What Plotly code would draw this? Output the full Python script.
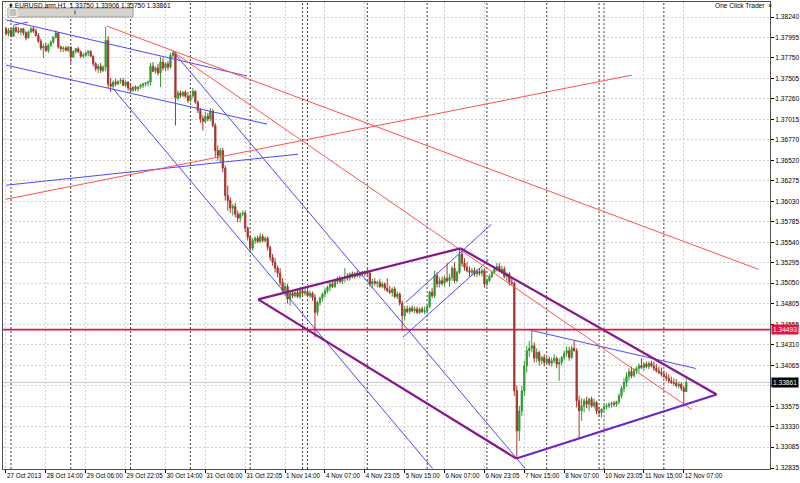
import plotly.graph_objects as go

# ---------------- data (EURUSD H1) ----------------
first_open = 1.3810
closes = [
    1.3804, 1.3808, 1.3801, 1.3811, 1.3807, 1.3806, 1.3810, 1.3805, 1.3799, 1.3806,
    1.3810, 1.3807, 1.3802, 1.3795, 1.3787, 1.3789, 1.3784, 1.3790, 1.3794, 1.3800,
    1.3805, 1.3788, 1.3786, 1.3787, 1.3784, 1.3788, 1.3776, 1.3783, 1.3786, 1.3782,
    1.3777, 1.3778, 1.3781, 1.3783, 1.3777, 1.3768, 1.3762, 1.3765, 1.3760, 1.3764,
    1.3796, 1.3744, 1.3741, 1.3746, 1.3744, 1.3747, 1.3748, 1.3742, 1.3746, 1.3739,
    1.3736, 1.3740, 1.3738, 1.3740, 1.3742, 1.3744, 1.3745, 1.3746, 1.3765, 1.3759,
    1.3763, 1.3757, 1.3770, 1.3763, 1.3768, 1.3764, 1.3778, 1.3781, 1.3727, 1.3733,
    1.3730, 1.3734, 1.3729, 1.3724, 1.3730, 1.3735, 1.3722, 1.3712, 1.3702, 1.3699,
    1.3705, 1.3702, 1.3711, 1.3694, 1.3664, 1.3658, 1.3664, 1.3643, 1.3610, 1.3604,
    1.3595, 1.3597, 1.3588, 1.3583, 1.3588, 1.3589, 1.3571, 1.3560, 1.3547, 1.3556,
    1.3559, 1.3555, 1.3561, 1.3556, 1.3559, 1.3548, 1.3536, 1.3530, 1.3523, 1.3517,
    1.3506, 1.3496, 1.3501, 1.3486, 1.3493, 1.3490, 1.3494, 1.3489, 1.3496, 1.3493,
    1.3495, 1.3490, 1.3493, 1.3488, 1.3470, 1.3482, 1.3487, 1.3492, 1.3496, 1.3500,
    1.3504, 1.3501, 1.3507, 1.3510, 1.3507, 1.3511, 1.3513, 1.3511, 1.3516, 1.3513,
    1.3517, 1.3514, 1.3518, 1.3516, 1.3519, 1.3517, 1.3504, 1.3507, 1.3505, 1.3506,
    1.3501, 1.3504, 1.3499, 1.3496, 1.3494, 1.3498, 1.3489, 1.3492, 1.3481, 1.3466,
    1.3474, 1.3471, 1.3475, 1.3472, 1.3474, 1.3470, 1.3474, 1.3471, 1.3472, 1.3477,
    1.3494, 1.3490, 1.3514, 1.3504, 1.3508, 1.3505, 1.3511, 1.3508, 1.3512, 1.3523,
    1.3508, 1.3518, 1.3540, 1.3529, 1.3524, 1.3520, 1.3518, 1.3520, 1.3516, 1.3519,
    1.3517, 1.3520, 1.3504, 1.3508, 1.3513, 1.3518, 1.3522, 1.3525, 1.3520, 1.3522,
    1.3513, 1.3516, 1.3506, 1.3505, 1.3376, 1.3328, 1.3352, 1.3376, 1.3406, 1.3424,
    1.3427, 1.3430, 1.3415, 1.3422, 1.3412, 1.3416, 1.3410, 1.3414, 1.3409, 1.3412,
    1.3415, 1.3408, 1.3410, 1.3416, 1.3421, 1.3424, 1.3416, 1.3427, 1.3424, 1.3364,
    1.3352, 1.3358, 1.3364, 1.3360, 1.3366, 1.3358, 1.3362, 1.3352, 1.3350, 1.3354,
    1.3357, 1.3358, 1.3360, 1.3361, 1.3360, 1.3363, 1.3370, 1.3379, 1.3386, 1.3393,
    1.3399, 1.3394, 1.3400, 1.3403, 1.3406, 1.3404, 1.3408, 1.3405, 1.3409, 1.3406,
    1.3403, 1.3400, 1.3398, 1.3396, 1.3393, 1.3391, 1.3388, 1.3386, 1.3385, 1.3382,
    1.3384, 1.3379, 1.33750, 1.33861,
]
highs = [
    1.3812, 1.3811, 1.3811, 1.3814, 1.3813, 1.3812, 1.3811, 1.3811, 1.3807, 1.3808,
    1.3812, 1.3812, 1.3810, 1.3805, 1.3798, 1.3792, 1.3793, 1.3792, 1.3796, 1.3801,
    1.3808, 1.3806, 1.3790, 1.3789, 1.3789, 1.3789, 1.3789, 1.3784, 1.3787, 1.3788,
    1.3784, 1.3781, 1.3782, 1.3784, 1.3784, 1.3778, 1.3770, 1.3768, 1.3769, 1.3766,
    1.3812, 1.3801, 1.3751, 1.3748, 1.3750, 1.3748, 1.3751, 1.3751, 1.3748, 1.3747,
    1.3744, 1.3741, 1.3742, 1.3741, 1.3744, 1.3745, 1.3746, 1.3748, 1.3769, 1.3770,
    1.3765, 1.3768, 1.3776, 1.3775, 1.3770, 1.3771, 1.3781, 1.3784, 1.3782, 1.3736,
    1.3736, 1.3735, 1.3736, 1.3734, 1.3732, 1.3739, 1.3736, 1.3724, 1.3715, 1.3706,
    1.3710, 1.3709, 1.3715, 1.3714, 1.3697, 1.3670, 1.3667, 1.3667, 1.3646, 1.3622,
    1.3608, 1.3600, 1.3601, 1.3592, 1.3590, 1.3592, 1.3592, 1.3573, 1.3562, 1.3559,
    1.3561, 1.3562, 1.3565, 1.3564, 1.3561, 1.3561, 1.3550, 1.3540, 1.3535, 1.3526,
    1.3523, 1.3511, 1.3505, 1.3504, 1.3496, 1.3496, 1.3495, 1.3498, 1.3500, 1.3499,
    1.3498, 1.3500, 1.3496, 1.3495, 1.3492, 1.3484, 1.3489, 1.3494, 1.3499, 1.3502,
    1.3506, 1.3507, 1.3510, 1.3513, 1.3514, 1.3512, 1.3523, 1.3517, 1.3518, 1.3519,
    1.3518, 1.3520, 1.3519, 1.3520, 1.3520, 1.3522, 1.3519, 1.3510, 1.3511, 1.3508,
    1.3510, 1.3507, 1.3506, 1.3511, 1.3502, 1.3500, 1.3501, 1.3495, 1.3494, 1.3484,
    1.3478, 1.3478, 1.3477, 1.3478, 1.3477, 1.3477, 1.3476, 1.3477, 1.3477, 1.3480,
    1.3496, 1.3499, 1.3520, 1.3518, 1.3512, 1.3513, 1.3514, 1.3529, 1.3516, 1.3526,
    1.3530, 1.3520, 1.3547, 1.3544, 1.3535, 1.3530, 1.3525, 1.3523, 1.3524, 1.3522,
    1.3523, 1.3523, 1.3523, 1.3511, 1.3516, 1.3520, 1.3525, 1.3529, 1.3529, 1.3526,
    1.3525, 1.3518, 1.3518, 1.3511, 1.3507, 1.3382, 1.3358, 1.3382, 1.3412, 1.3430,
    1.3436, 1.3448, 1.3434, 1.3427, 1.3424, 1.3418, 1.3420, 1.3417, 1.3417, 1.3416,
    1.3420, 1.3417, 1.3415, 1.3418, 1.3424, 1.3429, 1.3429, 1.3430, 1.3436, 1.3427,
    1.3370, 1.3367, 1.3367, 1.3369, 1.3368, 1.3369, 1.3367, 1.3364, 1.3357, 1.3355,
    1.3360, 1.3361, 1.3362, 1.3363, 1.3364, 1.3364, 1.3373, 1.3382, 1.3391, 1.3398,
    1.3403, 1.3405, 1.3403, 1.3405, 1.3409, 1.3415, 1.3410, 1.3411, 1.3411, 1.3412,
    1.3411, 1.3408, 1.3405, 1.3404, 1.3400, 1.3398, 1.3396, 1.3393, 1.3391, 1.3390,
    1.3387, 1.3386, 1.3382, 1.33906,
]
lows = [
    1.3802, 1.3801, 1.3800, 1.3800, 1.3805, 1.3804, 1.3802, 1.3802, 1.3796, 1.3798,
    1.3805, 1.3805, 1.3801, 1.3793, 1.3784, 1.3775, 1.3782, 1.3781, 1.3788, 1.3792,
    1.3798, 1.3786, 1.3782, 1.3782, 1.3783, 1.3782, 1.3769, 1.3775, 1.3780, 1.3781,
    1.3775, 1.3775, 1.3776, 1.3777, 1.3776, 1.3765, 1.3759, 1.3757, 1.3757, 1.3758,
    1.3759, 1.3739, 1.3734, 1.3739, 1.3741, 1.3742, 1.3744, 1.3741, 1.3740, 1.3736,
    1.3734, 1.3734, 1.3735, 1.3735, 1.3738, 1.3739, 1.3741, 1.3741, 1.3742, 1.3758,
    1.3756, 1.3754, 1.3740, 1.3760, 1.3759, 1.3760, 1.3762, 1.3775, 1.3694, 1.3724,
    1.3727, 1.3728, 1.3727, 1.3721, 1.3722, 1.3727, 1.3720, 1.3709, 1.3697, 1.3688,
    1.3697, 1.3699, 1.3699, 1.3692, 1.3656, 1.3652, 1.3649, 1.3638, 1.3604, 1.3592,
    1.3589, 1.3586, 1.3584, 1.3578, 1.3578, 1.3585, 1.3566, 1.3556, 1.3542, 1.3544,
    1.3552, 1.3553, 1.3553, 1.3554, 1.3554, 1.3544, 1.3532, 1.3526, 1.3518, 1.3512,
    1.3502, 1.3493, 1.3489, 1.3481, 1.3478, 1.3487, 1.3488, 1.3487, 1.3486, 1.3489,
    1.3490, 1.3488, 1.3487, 1.3484, 1.3440, 1.3466, 1.3478, 1.3483, 1.3488, 1.3493,
    1.3495, 1.3499, 1.3499, 1.3504, 1.3505, 1.3504, 1.3506, 1.3508, 1.3508, 1.3511,
    1.3510, 1.3512, 1.3511, 1.3513, 1.3513, 1.3514, 1.3501, 1.3499, 1.3502, 1.3500,
    1.3499, 1.3499, 1.3496, 1.3494, 1.3492, 1.3489, 1.3487, 1.3486, 1.3478, 1.3448,
    1.3460, 1.3469, 1.3468, 1.3470, 1.3469, 1.3468, 1.3468, 1.3469, 1.3468, 1.3469,
    1.3475, 1.3487, 1.3487, 1.3500, 1.3500, 1.3502, 1.3501, 1.3506, 1.3501, 1.3508,
    1.3505, 1.3506, 1.3516, 1.3525, 1.3520, 1.3518, 1.3513, 1.3514, 1.3513, 1.3512,
    1.3514, 1.3513, 1.3500, 1.3501, 1.3506, 1.3511, 1.3516, 1.3519, 1.3518, 1.3516,
    1.3511, 1.3508, 1.3502, 1.3502, 1.3370, 1.3295, 1.3316, 1.3346, 1.3370, 1.3398,
    1.3417, 1.3422, 1.3410, 1.3410, 1.3406, 1.3408, 1.3405, 1.3408, 1.3406, 1.3405,
    1.3409, 1.3403, 1.3388, 1.3406, 1.3412, 1.3417, 1.3412, 1.3414, 1.3423, 1.3356,
    1.3319, 1.3340, 1.3350, 1.3355, 1.3352, 1.3356, 1.3355, 1.3348, 1.3345, 1.3344,
    1.3351, 1.3354, 1.3355, 1.3356, 1.3357, 1.3357, 1.3360, 1.3367, 1.3374, 1.3381,
    1.3388, 1.3391, 1.3392, 1.3396, 1.3398, 1.3402, 1.3400, 1.3403, 1.3402, 1.3404,
    1.3400, 1.3398, 1.3396, 1.3393, 1.3391, 1.3388, 1.3385, 1.3384, 1.3382, 1.3380,
    1.3379, 1.3376, 1.3358, 1.33750,
]
opens = [first_open] + closes[:-1]
bars = list(range(len(closes)))

time_tick_bars = list(range(0, 273, 16))
time_tick_labels = [
    "27 Oct 2013", "28 Oct 14:00", "29 Oct 06:00", "29 Oct 22:05", "30 Oct 14:00",
    "31 Oct 06:00", "31 Oct 22:05", "1 Nov 14:00", "4 Nov 07:00", "4 Nov 23:05",
    "5 Nov 15:00", "6 Nov 07:00", "6 Nov 23:05", "7 Nov 15:00", "8 Nov 07:00",
    "10 Nov 23:05", "11 Nov 15:00", "12 Nov 07:00",
]
day_separator_bars = [2, 26, 50, 74, 98, 119, 121, 145, 169, 193, 217, 238, 240, 264]

price_ticks = [1.38240, 1.37995, 1.37750, 1.37505, 1.37260, 1.37015, 1.36770,
               1.36520, 1.36275, 1.36030, 1.35785, 1.35540, 1.35295, 1.35050,
               1.34805, 1.34555, 1.34310, 1.34065, 1.33820, 1.33575, 1.33330,
               1.33085, 1.32835]
price_tick_labels = ["1.38240", "1.37995", "1.37750", "1.37505", "1.37260", "1.37015",
                     "1.36770", "1.36520", "1.36275", "1.36030", "1.35785", "1.35540",
                     "1.35295", "1.35050", "1.34805", "1.34555", "1.34310", "1.34065",
                     "", "1.33575", "1.33330", "1.33085", "1.32835"]

symbol_title = "EURUSD.arm,H1  1.33750 1.33906 1.33750 1.33861"
hline_price = 1.34493
bid_price = 1.33861

# trend line anchors: ((bar, price), (bar, price))
blue_lines = [
    ((0, 1.38204), (96.8, 1.37532)),
    ((3.2, 1.38144), (8.8, 1.38180)),
    ((0, 1.37664), (104.8, 1.36956)),
    ((0, 1.36224), (117.2, 1.36596)),
    ((42.8, 1.37388), (171.2, 1.32828)),
    ((67.2, 1.37820), (208.4, 1.32828)),
    ((159.2, 1.34400), (193.6, 1.35324)),
    ((160.4, 1.34820), (194.8, 1.35756)),
    ((210.8, 1.34484), (276.8, 1.34028)),
]
red_lines = [
    ((40.4, 1.38132), (302.0, 1.35216)),
    ((67.2, 1.37820), (275.2, 1.33536)),
    ((0, 1.36056), (251.2, 1.37544)),
]
purple_lines = [
    ((101.2, 1.34856), (182.4, 1.35468)),
    ((182.4, 1.35468), (285.2, 1.33716)),
    ((101.2, 1.34856), (204.8, 1.32948)),
]
violet_lines = [
    ((204.8, 1.32948), (285.2, 1.33716)),
]

# ---------------- styling ----------------
BULL = "#2f9a2f"
BEAR = "#a8342c"
FONT = "Liberation Sans"
W, H = 800, 483
ML, MR, MT, MB = 3, 30, 2, 14
PW, PH = W - ML - MR, H - MT - MB


def px_x(px):
    return (px - ML) / PW


def px_y(py):
    return 1 - (py - MT) / PH


fig = go.Figure()

fig.add_trace(go.Candlestick(
    x=bars, open=opens, high=highs, low=lows, close=closes,
    increasing=dict(line=dict(color=BULL, width=1), fillcolor=BULL),
    decreasing=dict(line=dict(color=BEAR, width=1), fillcolor=BEAR),
    whiskerwidth=0, showlegend=False, hoverinfo="skip",
))


def add_lines(lines, color, width):
    for (a, b) in lines:
        fig.add_trace(go.Scatter(
            x=[a[0], b[0]], y=[a[1], b[1]], mode="lines",
            line=dict(color=color, width=width),
            showlegend=False, hoverinfo="skip",
        ))


add_lines(blue_lines, "#4b4bff", 1)
add_lines(red_lines, "#ff5252", 1)
add_lines(purple_lines, "#88168a", 2.2)
add_lines(violet_lines, "#6a26c8", 2.2)

shapes = []
for b in day_separator_bars:
    shapes.append(dict(type="line", xref="x", yref="paper", x0=b, x1=b, y0=0, y1=1,
                       line=dict(color="#3c3c3c", width=1, dash="2px,2px"), layer="between"))
# bid line
shapes.append(dict(type="line", xref="paper", yref="y", x0=0, x1=1, y0=bid_price, y1=bid_price,
                   line=dict(color="#c8c8c8", width=1), layer="between"))
# horizontal line
shapes.append(dict(type="line", xref="paper", yref="y", x0=0, x1=1, y0=hline_price, y1=hline_price,
                   line=dict(color="#e0163f", width=1.6), layer="above"))
# collapsed one-click panel
shapes.append(dict(type="rect", xref="paper", yref="paper",
                   x0=px_x(8), x1=px_x(133), y0=px_y(17), y1=px_y(8),
                   fillcolor="#d6d3cc", line=dict(color="#9a9a9a", width=1), layer="above"))
shapes.append(dict(type="rect", xref="paper", yref="paper",
                   x0=px_x(9), x1=px_x(17), y0=px_y(16.5), y1=px_y(8.5),
                   fillcolor="#c4c1ba", line=dict(color="#f4f4f4", width=1), layer="above"))
shapes.append(dict(type="rect", xref="paper", yref="paper",
                   x0=px_x(74), x1=px_x(76), y0=px_y(14.5), y1=px_y(10.5),
                   fillcolor="#8c8c8c", line=dict(width=0), layer="above"))

annotations = [
    dict(xref="paper", yref="paper", x=px_x(7), y=px_y(6), xanchor="left", yanchor="middle",
         text="▾ " + symbol_title, showarrow=False,
         font=dict(family=FONT, size=6.6, color="#000000")),
    dict(xref="paper", yref="paper", x=px_x(713), y=px_y(6), xanchor="left", yanchor="middle",
         text="One Click Trader  ×", showarrow=False,
         font=dict(family=FONT, size=6.6, color="#000000")),
    dict(xref="paper", yref="y", x=1, y=hline_price, xanchor="left", yanchor="middle", xshift=1,
         text="1.34493", showarrow=False, bgcolor="#e0163f", borderpad=1,
         font=dict(family=FONT, size=6.6, color="#ffffff")),
    dict(xref="paper", yref="y", x=1, y=bid_price, xanchor="left", yanchor="middle", xshift=1,
         text="1.33861", showarrow=False, bgcolor="#000000", borderpad=1,
         font=dict(family=FONT, size=6.6, color="#ffffff")),
]

fig.update_layout(
    width=W, height=H,
    margin=dict(l=ML, r=MR, t=MT, b=MB, autoexpand=False),
    paper_bgcolor="#ffffff", plot_bgcolor="#ffffff",
    shapes=shapes, annotations=annotations,
    showlegend=False,
    xaxis=dict(
        range=[-1.2, 306.6], rangeslider=dict(visible=False),
        tickmode="array", tickvals=time_tick_bars, ticktext=time_tick_labels,
        ticklabelposition="outside right", tickangle=0, ticks="outside", ticklen=3,
        tickcolor="#000000", ticklabelstandoff=0,
        tickfont=dict(family=FONT, size=6.3, color="#000000"),
        showgrid=True, gridcolor="#cfcfcf", griddash="2px,2px", gridwidth=1,
        showline=True, linecolor="#505050", linewidth=1, mirror=True, zeroline=False,
        fixedrange=True, automargin=False,
    ),
    yaxis=dict(
        range=[1.32823, 1.38420], side="right",
        tickmode="array", tickvals=price_ticks, ticktext=price_tick_labels,
        ticks="outside", ticklen=3, tickcolor="#000000",
        tickfont=dict(family=FONT, size=6.6, color="#000000"),
        showgrid=True, gridcolor="#cfcfcf", griddash="2px,2px", gridwidth=1,
        showline=True, linecolor="#505050", linewidth=1, mirror=True, zeroline=False,
        fixedrange=True, automargin=False,
    ),
)

fig.write_html(
    "out.html",
    config={"displayModeBar": False},
    post_script="document.body.style.margin='0';document.body.style.overflow='hidden';",
)
